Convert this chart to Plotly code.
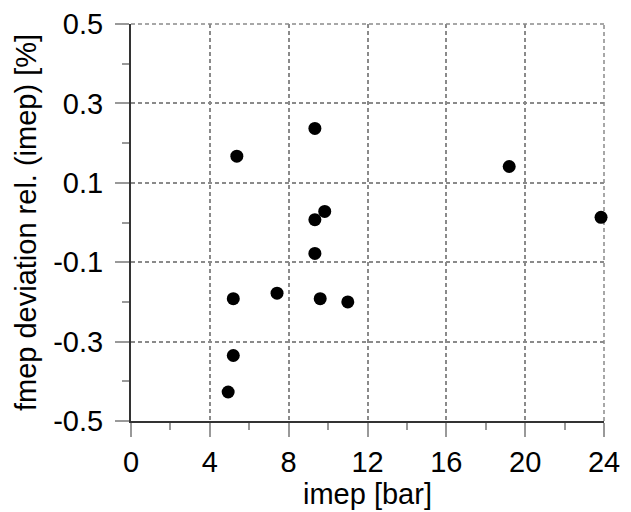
import plotly.graph_objects as go

imep = [9.33, 5.37, 9.83, 9.33, 9.33, 5.19, 7.41, 9.60, 11.0, 5.19, 4.93, 19.19, 23.85]
fmep_dev = [0.237, 0.167, 0.028, 0.007, -0.078, -0.192, -0.178, -0.192, -0.200, -0.335, -0.427, 0.141, 0.013]

x_ticks = [0, 4, 8, 12, 16, 20, 24]
x_ticktext = ["0", "4", "8", "12", "16", "20", "24"]
y_ticks = [-0.5, -0.3, -0.1, 0.1, 0.3, 0.5]
y_ticktext = ["-0.5", "-0.3", "-0.1", "0.1", "0.3", "0.5"]

FONT = "Liberation Sans, Arial, sans-serif"
GRIDCOL = "#8a8a8a"
DASH = "4px,3px"

fig = go.Figure()
fig.add_trace(go.Scatter(
    x=imep, y=fmep_dev, mode="markers",
    marker=dict(color="black", size=13, line=dict(width=0)),
    showlegend=False, cliponaxis=False,
))

grid = dict(showgrid=True, gridcolor=GRIDCOL, gridwidth=1.5, griddash=DASH)

# top and right border gridlines (plotly hides gridlines at range edges)
fig.add_shape(type="line", xref="paper", yref="paper", x0=0, x1=1, y0=1, y1=1,
              line=dict(color=GRIDCOL, width=1.5, dash=DASH), layer="below")
fig.add_shape(type="line", xref="paper", yref="paper", x0=1, x1=1, y0=0, y1=1,
              line=dict(color=GRIDCOL, width=1.5, dash=DASH), layer="below")

fig.update_layout(
    width=631, height=512,
    margin=dict(l=131, r=27, t=24, b=91, autoexpand=False),
    paper_bgcolor="white", plot_bgcolor="white",
    font=dict(family=FONT, size=29, color="black"),
    xaxis=dict(
        range=[0, 24], tickvals=x_ticks, ticktext=x_ticktext, automargin=False,
        ticks="outside", ticklen=14, tickwidth=1.5, tickcolor="#999999",
        minor=dict(dtick=2, tick0=0, ticks="outside", ticklen=7, tickwidth=1.5, tickcolor="#999999", showgrid=False),
        showline=True, linecolor="#333333", linewidth=2, zeroline=False,
        title=dict(text="imep [bar]", font=dict(size=29), standoff=6),
        tickfont=dict(size=29), **grid,
    ),
    yaxis=dict(
        range=[-0.5, 0.5], tickvals=y_ticks, ticktext=y_ticktext, automargin=False,
        ticks="outside", ticklen=14, tickwidth=1.5, tickcolor="#999999",
        minor=dict(dtick=0.1, tick0=0, ticks="outside", ticklen=7, tickwidth=1.5, tickcolor="#999999", showgrid=False),
        showline=True, linecolor="#333333", linewidth=2, zeroline=False,
        title=dict(text="fmep deviation rel. (imep) [%]", font=dict(size=29), standoff=8),
        tickfont=dict(size=29), ticklabelstandoff=6, **grid,
    ),
)

fig.write_html("out.html")
